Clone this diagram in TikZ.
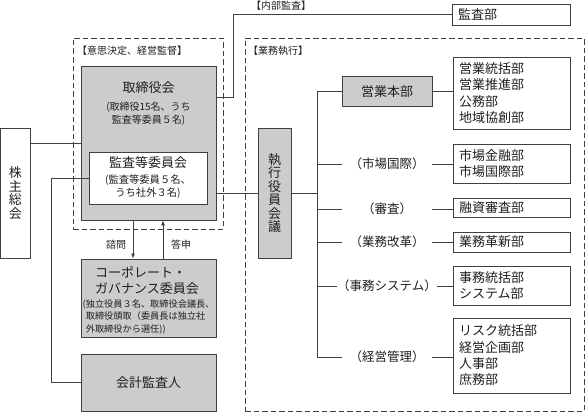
\documentclass[tikz,border=0pt]{standalone}
\usepackage{fontspec}
\setmainfont{Noto Sans CJK JP}
\usetikzlibrary{arrows.meta}
\definecolor{linec}{gray}{0.25}
\definecolor{fillc}{gray}{0.8}
\definecolor{textc}{gray}{0.12}
\begin{document}
\begin{tikzpicture}[x=1pt,y=-1pt,
  every node/.style={text=textc},
  box/.style={draw=linec, line width=0.8pt, inner sep=0pt},
  graybox/.style={box, fill=fillc},
  whitebox/.style={box, fill=white},
  dashbox/.style={draw=linec, line width=0.8pt, dash pattern=on 5.5pt off 3pt, inner sep=0pt},
  conn/.style={draw=linec, line width=0.8pt},
  listbox/.style={box, fill=white, text width=105pt, inner xsep=6pt, inner ysep=0pt, align=left, font=\fontsize{13}{16.3}\selectfont},
  hdr/.style={inner sep=0pt, font=\fontsize{10}{12}\selectfont},
  title/.style={inner sep=0pt, font=\fontsize{13}{16}\selectfont},
  sub/.style={inner sep=0pt, align=center, font=\fontsize{10}{12.5}\selectfont},
  small/.style={inner sep=0pt, align=left, font=\fontsize{9.2}{12.5}\selectfont},
  vert/.style={align=center, font=\fontsize{13}{13.5}\selectfont},
  branch/.style={inner sep=0pt, minimum width=90pt, font=\fontsize{12.5}{14}\selectfont},
  arr/.style={conn, -{Latex[length=5pt,width=4pt]}}
]
\useasboundingbox (0,0) rectangle (585,412);

% dashed groups
\node[dashbox, minimum width=150pt, minimum height=191pt] (decision) at (148,133.5) {};
\node[dashbox, minimum width=339pt, minimum height=373pt] (execution) at (414.5,224.5) {};
\node[hdr, anchor=west] (decisionlbl) at (77,51) {【意思決定、経営監督】};
\node[hdr, anchor=west] (execlbl) at (248,51) {【業務執行】};
\node[hdr, anchor=west] (iauditlbl) at (251,6) {【内部監査】};

% left side
\node[whitebox, minimum width=30pt, minimum height=130pt, vert] (share) at (15.4,193) {株\\主\\総\\会};
\node[graybox, minimum width=135pt, minimum height=154pt] (board) at (148.5,143) {};
\node[title] (boardtitle) at (148.5,88) {取締役会};
\node[sub] (boardsub) at (148.5,114) {(取締役15名、うち\\監査等委員５名)};
\node[whitebox, minimum width=118pt, minimum height=52pt] (auditcom) at (148,178) {};
\node[title] (auditcomtitle) at (148,163) {監査等委員会};
\node[sub, font=\fontsize{10.3}{13}\selectfont] (auditcomsub) at (148,186.5) {(監査等委員５名、\\うち社外３名)};

\node[graybox, minimum width=135pt, minimum height=78pt] (cgc) at (148.5,298) {};
\node[title, anchor=west, align=left] (cgctitle) at (95,281) {コーポレート・\\ガバナンス委員会};
\node[small, anchor=west] (cgcsub) at (82.5,317) {(独立役員３名、取締役会議長、\\\phantom{(}取締役頭取（委員長は独立社\\\phantom{(}外取締役から選任))};

\node[graybox, minimum width=135pt, minimum height=57pt, title] (auditor) at (148.5,382.5) {会計監査人};

\node[sub] (asklbl) at (116,245) {諮問};
\node[sub] (replylbl) at (181,245) {答申};

% internal audit
\node[listbox, minimum height=21pt, text width=106pt] (iadept) at (511,14.5) {監査部};

% execution side
\node[graybox, minimum width=33pt, minimum height=130pt, vert] (exec) at (274.5,193) {執\\行\\役\\員\\会\\議};
\coordinate (trunktop) at (317,91.5);
\coordinate (trunkbot) at (317,357);

\node[graybox, minimum width=90pt, minimum height=30pt, title] (sales) at (387,91.5) {営業本部};
\node[branch] (market) at (387,164) {（市場国際）};
\node[branch] (review) at (387,209) {（審査）};
\node[branch] (reform) at (387,242) {（業務改革）};
\node[branch] (system) at (387,286) {（事務システム）};
\node[branch] (mgmt) at (387,357) {（経営管理）};

\node[listbox, minimum height=72pt] (l1) at (511.5,93) {営業統括部\\営業推進部\\公務部\\地域協創部};
\node[listbox, minimum height=39pt] (l2) at (511.5,163.5) {市場金融部\\市場国際部};
\node[listbox, minimum height=19pt] (l3) at (511.5,207.5) {融資審査部};
\node[listbox, minimum height=20pt] (l4) at (511.5,242) {業務革新部};
\node[listbox, minimum height=39pt] (l5) at (511.5,285.5) {事務統括部\\システム部};
\node[listbox, minimum height=75pt] (l6) at (511.5,355.5) {リスク統括部\\経営企画部\\人事部\\庶務部};

% connectors
\draw[conn] (share.east |- board.west) -- (board.west);
\draw[conn] (auditcom.west) -- ++(-37,0) |- (auditor.west);
\draw[conn] (board.east |- exec.west) -- (exec.west);
\draw[conn] ([yshift=46pt]board.east) -- ++(17,0) |- (iadept.west);
\draw[arr] ([xshift=-15.5pt]board.south) -- ([xshift=-15.5pt]cgc.north);
\draw[arr] ([xshift=14.5pt]cgc.north) -- ([xshift=14.5pt]board.south);

\draw[conn] (exec.east) -- (exec.east -| trunktop);
\draw[conn] (trunktop) -- (trunkbot);
\foreach \b/\l in {sales/l1, market/l2, review/l3, reform/l4, system/l5, mgmt/l6}{
  \draw[conn] (\b.west -| trunktop) -- (\b.west);
  \draw[conn] (\b.east) -- (\b.east -| \l.west);
}
\end{tikzpicture}
\end{document}
